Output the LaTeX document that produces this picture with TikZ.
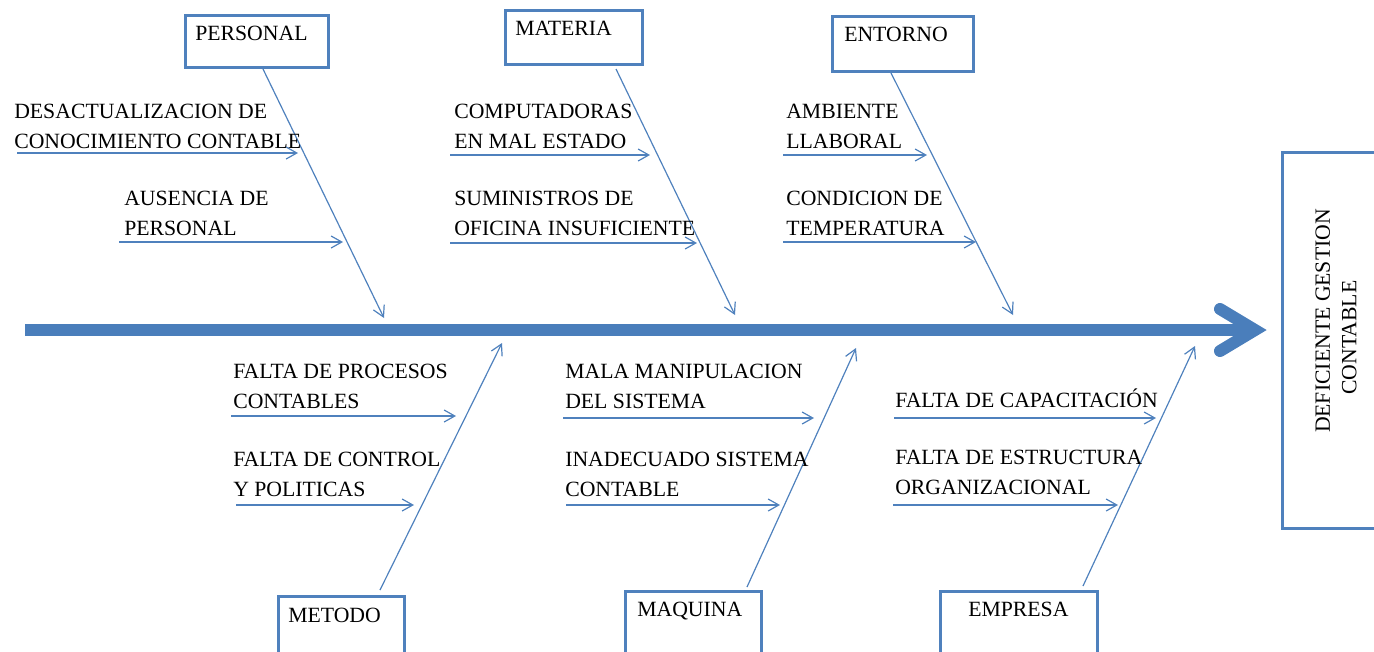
\documentclass[tikz,border=0pt]{standalone}
\usepackage{fontspec}
\setmainfont{Liberation Serif}
\usetikzlibrary{arrows.meta}
\definecolor{fbblue}{RGB}{79,129,189}
\definecolor{spineblue}{RGB}{74,126,187}
\begin{document}
\begin{tikzpicture}[x=0.75pt,y=-0.75pt,
  catbox/.style={draw=fbblue, line width=2.4pt, rectangle, inner sep=0pt, anchor=north west},
  lbl/.style={inner sep=0pt, anchor=base west, align=left, font=\fontsize{16.3}{22}\selectfont, text=black},
  bone/.style={draw=fbblue, line width=0.9pt, -{Straight Barb[length=8pt,width=9pt]}},
  spinestyle/.style={draw=spineblue, line width=9pt}]
\path[use as bounding box] (0,0) rectangle (1374,651);
\clip (0,0) rectangle (1374,651);

% category boxes
\node[catbox, minimum width=107.25pt, minimum height=39pt] (personal) at (183.5,13.5) {};
\node[catbox, minimum width=102.75pt, minimum height=40.5pt] (materia) at (503.5,8.5) {};
\node[catbox, minimum width=105.75pt, minimum height=41.25pt] (entorno) at (830.5,14.5) {};
\node[catbox, minimum width=94.5pt, minimum height=46.5pt] (metodo) at (276.5,594.5) {};
\node[catbox, minimum width=102pt, minimum height=49.5pt] (maquina) at (623.5,589.5) {};
\node[catbox, minimum width=117.75pt, minimum height=49.5pt] (empresa) at (938.5,589.5) {};
\node[catbox, minimum width=90pt, minimum height=282pt] (efecto) at (1280.5,150.5) {};

\node[lbl] (personalt) at (195,40) {PERSONAL};
\node[lbl] (materiat) at (515,35) {MATERIA};
\node[lbl] (entornot) at (844,41) {ENTORNO};
\node[lbl] (metodot) at (288,622) {METODO};
\node[lbl] (maquinat) at (637,616) {MAQUINA};
\node[lbl] (empresat) at (968,616) {EMPRESA};
\node[inner sep=0pt, rotate=90, align=center, font=\fontsize{16.3}{20}\selectfont] (efectot) at (1336,321)
  {DEFICIENTE GESTION\\CONTABLE\rule{25pt}{0pt}};

% spine
\coordinate (sp0) at (25,330);
\coordinate (sp1) at (1255,330);
\coordinate (ch1) at (1220,309);
\coordinate (ch2) at (1220,351);
\draw[spinestyle] (sp0) -- (sp1);
\draw[spinestyle, line cap=round, line join=miter] (ch1) -- (sp1) -- (ch2);

% main bones
\coordinate (pA) at (263,69);   \coordinate (pB) at (384,318);
\coordinate (mA) at (616,69);   \coordinate (mB) at (735,315);
\coordinate (eA) at (891,73);   \coordinate (eB) at (1013,315);
\coordinate (meA) at (380,590); \coordinate (meB) at (502,343);
\coordinate (maA) at (747,587); \coordinate (maB) at (856,348);
\coordinate (emA) at (1083,586);\coordinate (emB) at (1195,346);
\draw[bone] (pA) -- (pB);
\draw[bone] (mA) -- (mB);
\draw[bone] (eA) -- (eB);
\draw[bone] (meA) -- (meB);
\draw[bone] (maA) -- (maB);
\draw[bone] (emA) -- (emB);

% cause labels (anchored at the baseline of their last line)
\node[lbl] (t1) at (14,148) {DESACTUALIZACION DE\\CONOCIMIENTO CONTABLE};
\node[lbl] (t2) at (124,235) {AUSENCIA DE\\PERSONAL};
\node[lbl] (t3) at (454,148) {COMPUTADORAS\\EN MAL ESTADO};
\node[lbl] (t4) at (454,235) {SUMINISTROS DE\\OFICINA INSUFICIENTE};
\node[lbl] (t5) at (786,148) {AMBIENTE\\LLABORAL};
\node[lbl] (t6) at (786,235) {CONDICION DE\\TEMPERATURA};
\node[lbl] (u1) at (233,408) {FALTA DE PROCESOS\\CONTABLES};
\node[lbl] (u2) at (233,496) {FALTA DE CONTROL\\Y POLITICAS};
\node[lbl] (u3) at (565,408) {MALA MANIPULACION\\DEL SISTEMA};
\node[lbl] (u4) at (565,496) {INADECUADO SISTEMA\\CONTABLE};
\node[lbl] (u5) at (895,407) {FALTA DE CAPACITACIÓN};
\node[lbl] (u6) at (895,494) {FALTA DE ESTRUCTURA\\ORGANIZACIONAL};

% cause arrows
\coordinate (a1s) at (17,153);  \coordinate (a1e) at (298,153);
\coordinate (a2s) at (119,242); \coordinate (a2e) at (343,242);
\coordinate (a3s) at (450,155); \coordinate (a3e) at (650,155);
\coordinate (a4s) at (450,243); \coordinate (a4e) at (697,243);
\coordinate (a5s) at (783,155); \coordinate (a5e) at (927,155);
\coordinate (a6s) at (783,242); \coordinate (a6e) at (976,242);
\coordinate (b1s) at (231,416); \coordinate (b1e) at (456,416);
\coordinate (b2s) at (236,505); \coordinate (b2e) at (414,505);
\coordinate (b3s) at (563,418); \coordinate (b3e) at (814,418);
\coordinate (b4s) at (566,505); \coordinate (b4e) at (780,505);
\coordinate (b5s) at (894,418); \coordinate (b5e) at (1156,418);
\coordinate (b6s) at (893,505); \coordinate (b6e) at (1118,505);
\foreach \a in {a1,a2,a3,a4,a5,a6,b1,b2,b3,b4,b5,b6}
  \draw[bone] (\a s) -- (\a e);
\end{tikzpicture}
\end{document}
